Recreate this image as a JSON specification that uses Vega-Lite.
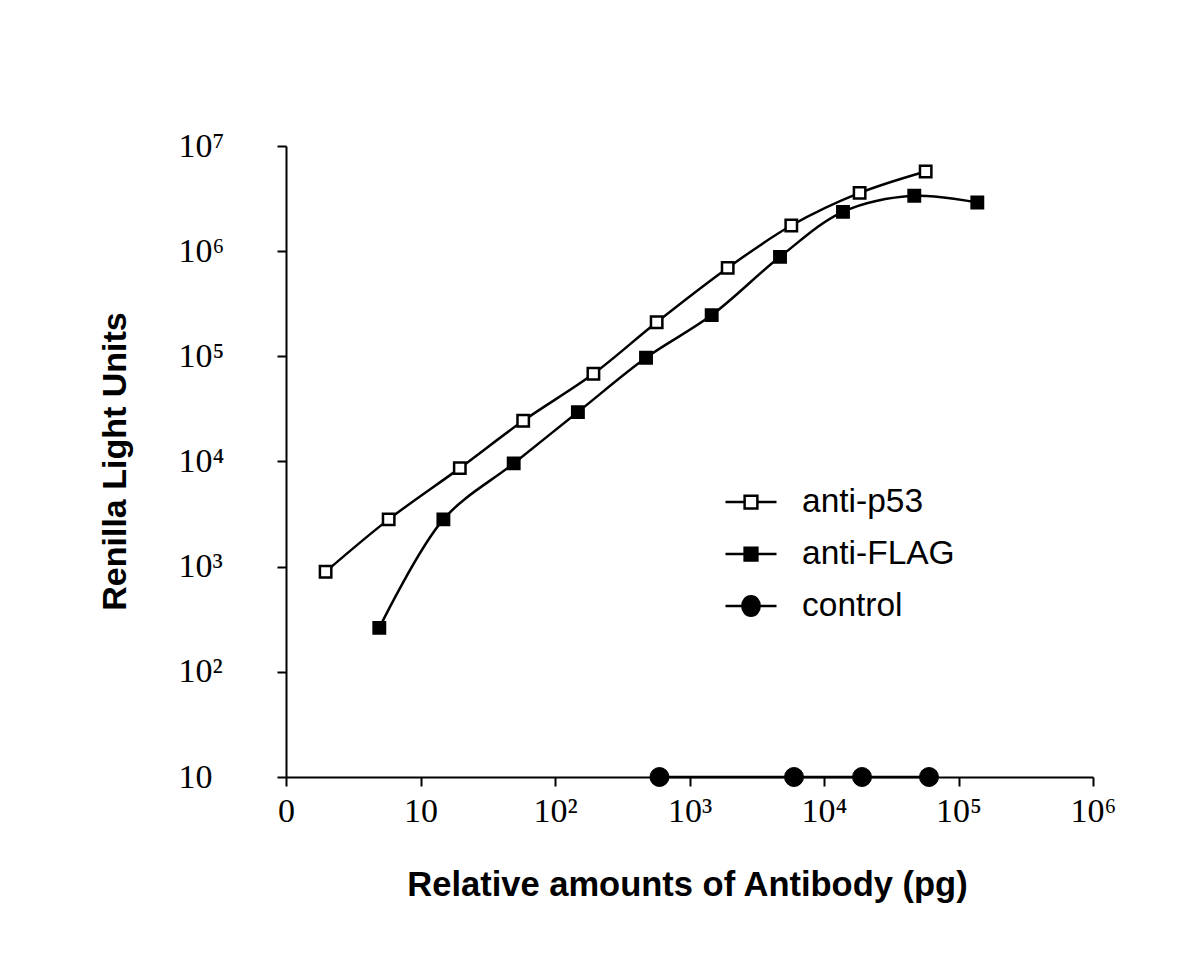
{
  "$schema": "https://vega.github.io/schema/vega-lite/v6.json",
  "width": 807,
  "height": 631,
  "autosize": "none",
  "padding": {"left": 286, "top": 146, "right": 107, "bottom": 177},
  "background": "white",
  "config": {"view": {"stroke": null}},
  "data": {"values": [
    {"series": "anti-p53", "x": 1.97, "y": 894},
    {"series": "anti-p53", "x": 5.8, "y": 2816},
    {"series": "anti-p53", "x": 19.6, "y": 8650},
    {"series": "anti-p53", "x": 58, "y": 24370},
    {"series": "anti-p53", "x": 193, "y": 68200},
    {"series": "anti-p53", "x": 570, "y": 211000},
    {"series": "anti-p53", "x": 1923, "y": 693000},
    {"series": "anti-p53", "x": 5714, "y": 1754000},
    {"series": "anti-p53", "x": 18400, "y": 3580000},
    {"series": "anti-p53", "x": 57000, "y": 5730000},
    {"series": "anti-FLAG", "x": 4.94, "y": 262},
    {"series": "anti-FLAG", "x": 14.8, "y": 2816},
    {"series": "anti-FLAG", "x": 49.3, "y": 9590},
    {"series": "anti-FLAG", "x": 148, "y": 29500},
    {"series": "anti-FLAG", "x": 475, "y": 96800},
    {"series": "anti-FLAG", "x": 1462, "y": 246600},
    {"series": "anti-FLAG", "x": 4710, "y": 883000},
    {"series": "anti-FLAG", "x": 13840, "y": 2366000},
    {"series": "anti-FLAG", "x": 46900, "y": 3360000},
    {"series": "anti-FLAG", "x": 138000, "y": 2900000},
    {"series": "control", "x": 598, "y": 10},
    {"series": "control", "x": 5984, "y": 10},
    {"series": "control", "x": 19170, "y": 10},
    {"series": "control", "x": 60350, "y": 10}
  ]},
  "encoding": {
    "x": {
      "field": "x", "type": "quantitative",
      "scale": {"type": "log", "domain": [1, 1000000], "nice": false},
      "axis": {
        "values": [1, 10, 100, 1000, 10000, 100000, 1000000],
        "labelExpr": "['0','10','10²','10³','10⁴','10⁵','10⁶'][round(log(datum.value)/LN10)]",
        "grid": false,
        "domainColor": "black", "domainWidth": 2,
        "tickColor": "black", "tickWidth": 2, "tickSize": 9,
        "labelFont": "Liberation Serif", "labelFontSize": 34, "labelColor": "black",
        "labelPadding": 8, "labelDx": -7, "labelFlush": false, "labelOverlap": false,
        "title": "Relative amounts of Antibody (pg)",
        "titleFont": "Liberation Sans", "titleFontSize": 34.5, "titleFontWeight": "bold", "titleColor": "black",
        "titleX": 401, "titleY": 108, "titleBaseline": "middle", "titleAnchor": "middle"
      }
    },
    "y": {
      "field": "y", "type": "quantitative",
      "scale": {"type": "log", "domain": [10, 10000000], "nice": false},
      "axis": {
        "values": [10, 100, 1000, 10000, 100000, 1000000, 10000000],
        "labelExpr": "['','10','10²','10³','10⁴','10⁵','10⁶','10⁷'][round(log(datum.value)/LN10)]",
        "grid": false,
        "domainColor": "black", "domainWidth": 2,
        "tickColor": "black", "tickWidth": 2, "tickSize": 9,
        "labelFont": "Liberation Serif", "labelFontSize": 34, "labelColor": "black",
        "labelAlign": "left", "labelBaseline": "middle", "labelPadding": 99, "labelFlush": false, "labelOverlap": false,
        "title": "Renilla Light Units",
        "titleFont": "Liberation Sans", "titleFontSize": 34, "titleFontWeight": "bold", "titleColor": "black",
        "titleAngle": -90, "titleX": -171, "titleY": 315, "titleBaseline": "middle", "titleAlign": "center"
      }
    }
  },
  "layer": [
    {
      "mark": {"type": "line", "interpolate": "catmull-rom", "stroke": "black", "strokeWidth": 2.5},
      "encoding": {"detail": {"field": "series", "type": "nominal"}}
    },
    {
      "transform": [{"filter": "datum.series === 'anti-p53'"}],
      "mark": {"type": "point", "shape": "square", "filled": true, "fill": "white", "stroke": "black", "strokeWidth": 2.5, "size": 130, "opacity": 1}
    },
    {
      "transform": [{"filter": "datum.series === 'anti-FLAG'"}],
      "mark": {"type": "point", "shape": "square", "filled": true, "fill": "black", "stroke": "black", "strokeWidth": 2.5, "size": 130, "opacity": 1}
    },
    {
      "transform": [{"filter": "datum.series === 'control'"}],
      "mark": {"type": "point", "shape": "circle", "filled": true, "fill": "black", "stroke": "black", "strokeWidth": 1, "size": 360, "opacity": 1}
    },
    {
      "transform": [{"filter": "false"}],
      "mark": {"type": "point", "filled": true, "stroke": "black", "strokeWidth": 2.5, "opacity": 1},
      "encoding": {
        "shape": {"field": "series", "type": "nominal",
          "scale": {"domain": ["anti-p53", "anti-FLAG", "control"],
            "range": [
              "M-1,0H-0.25M0.25,0H1M-0.25,-0.25H0.25V0.25H-0.25Z",
              "M-1,0H-0.25M0.25,0H1M-0.25,-0.25H0.25V0.25H-0.25Z",
              "M-1,0H1M0.34,0A0.34,0.38 0 1,1 -0.34,0A0.34,0.38 0 1,1 0.34,0Z"
            ]},
          "legend": {
            "orient": "none", "legendX": 438, "legendY": 330, "title": null,
            "symbolSize": 2601, "symbolStrokeWidth": 2.5, "rowPadding": 0, "clipHeight": 52, "labelOffset": 24,
            "labelFont": "Liberation Sans", "labelFontSize": 33.5, "labelColor": "black",
            "encode": {"symbols": {
              "stroke": {"value": "black"},
              "strokeWidth": {"value": 2.5},
              "opacity": {"value": 1}
            }}
          }
        },
        "fill": {"field": "series", "type": "nominal",
          "scale": {"domain": ["anti-p53", "anti-FLAG", "control"], "range": ["white", "black", "black"]},
          "legend": {
            "orient": "none", "legendX": 438, "legendY": 330, "title": null,
            "symbolSize": 2601, "symbolStrokeWidth": 2.5, "rowPadding": 0, "clipHeight": 52, "labelOffset": 24,
            "labelFont": "Liberation Sans", "labelFontSize": 33.5, "labelColor": "black",
            "encode": {"symbols": {
              "stroke": {"value": "black"},
              "strokeWidth": {"value": 2.5},
              "opacity": {"value": 1}
            }}
          }
        }
      }
    }
  ]
}
